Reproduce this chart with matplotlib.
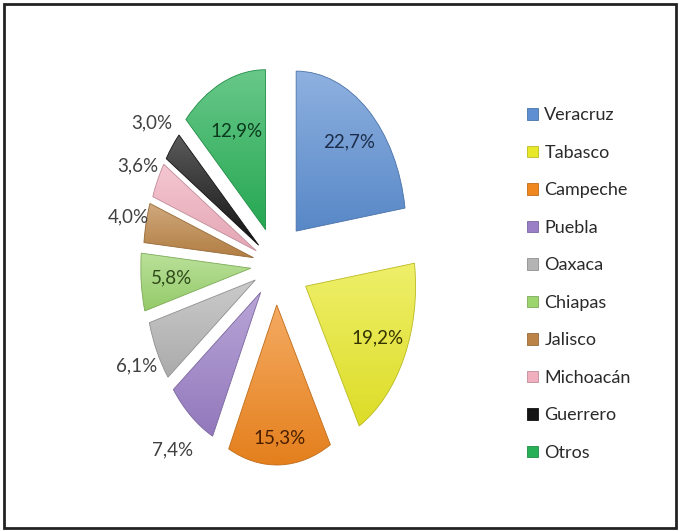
import numpy as np
import matplotlib
matplotlib.use("Agg")
import matplotlib.pyplot as plt
from matplotlib.patches import Rectangle
from matplotlib.colors import to_rgb

# Share of each state (percent)
states = ['Veracruz', 'Tabasco', 'Campeche', 'Puebla', 'Oaxaca',
          'Chiapas', 'Jalisco', 'Michoacán', 'Guerrero', 'Otros']
shares = [22.7, 19.2, 15.3, 7.4, 6.1, 5.8, 4.0, 3.6, 3.0, 12.9]

colors = ['#5d8fd2', '#e8e82a', '#f0861e', '#9a7fc6', '#b4b4b4',
          '#9cd46e', '#bb8446', '#f0afbe', '#151515', '#27b056']
text_colors = ['#1c2d4a', '#333300', '#4a1e00', '#404040', '#404040',
               '#2f4a1a', '#404040', '#404040', '#404040', '#0b3a1e']
explode = [0.28, 0.30, 0.25, 0.22, 0.21, 0.23, 0.21, 0.20, 0.20, 0.24]
label_dist = [0.74, 0.73, 0.83, 1.27, 1.21, 0.72, 1.17, 1.20, 1.24, 0.67]

plt.rcParams['font.family'] = ['Lato', 'DejaVu Sans']

W, H = 679, 531
fig = plt.figure(figsize=(W / 100, H / 100), dpi=100)
ax = fig.add_axes([0, 0, 1, 1])

edge_cols = [tuple(0.8 * np.array(to_rgb(c))) for c in colors]
wedges, _ = ax.pie(shares, colors=colors, explode=explode, startangle=90,
                   counterclock=False,
                   wedgeprops=dict(edgecolor='none', linewidth=0))

# soft vertical gradient inside each slice (lighter on top)
for w, c, ec in zip(wedges, colors, edge_cols):
    base = np.array(to_rgb(c))
    top = base + (1 - base) * 0.3
    bottom = base * 0.95
    v = w.get_path().vertices
    t = np.linspace(0, 1, 64)[:, None, None]
    grad = np.repeat(top * (1 - t) + bottom * t, 2, axis=1)
    im = ax.imshow(grad, extent=(v[:, 0].min(), v[:, 0].max(),
                                 v[:, 1].min(), v[:, 1].max()),
                   aspect='auto', interpolation='bilinear', zorder=2)
    im.set_clip_path(w)
    w.set_edgecolor(ec)
    w.set_linewidth(0.6)
    w.set_zorder(3)
    w.set_facecolor('none')

# percent labels, placed along each slice's middle angle
for w, val, d, c in zip(wedges, shares, label_dist, text_colors):
    mid = np.deg2rad((w.theta1 + w.theta2) / 2)
    cx, cy = w.center
    ax.text(cx + d * np.cos(mid), cy + d * np.sin(mid),
            f'{val:.1f}'.replace('.', ',') + '%',
            ha='center', va='center', fontsize=13.5, color=c, zorder=4)

# the original picture is stretched vertically: 110 px wide per unit, 160 px tall
cx_px, cy_px, rx, ry = 276, 266, 110, 160
ax.set_aspect('auto')
ax.set_xlim(-cx_px / rx, (W - cx_px) / rx)
ax.set_ylim(-cy_px / ry, (H - cy_px) / ry)
ax.axis('off')

handles = [Rectangle((0, 0), 1, 1, facecolor=c, edgecolor=ec, linewidth=0.6)
           for c, ec in zip(colors, edge_cols)]
fig.legend(handles, states, loc='center left',
           bbox_to_anchor=(511 / W, 1 - 284 / H), frameon=False,
           fontsize=13, handlelength=0.6, handleheight=0.6,
           handletextpad=0.35, labelspacing=1.19, labelcolor='#2a2a2a')

# outer frame
fig.patches.append(Rectangle((4 / W, 3 / H), 672 / W, 524 / H,
                             transform=fig.transFigure, fill=False,
                             edgecolor='#222222', linewidth=2))

fig.savefig('out.png', dpi=100)
